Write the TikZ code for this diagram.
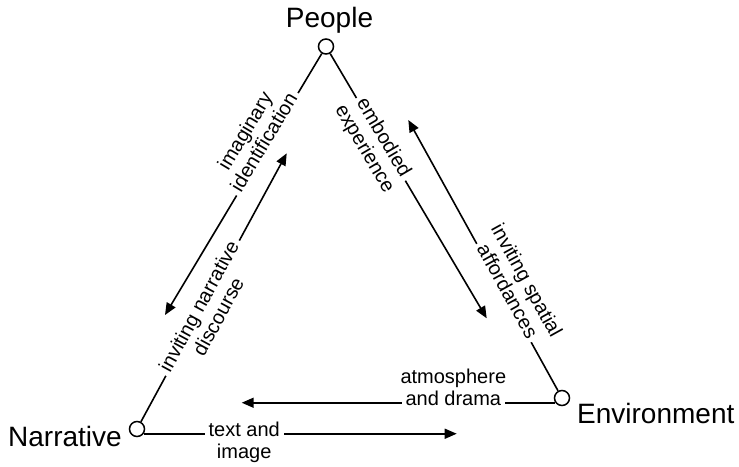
\documentclass[tikz,border=0pt]{standalone}
\usepackage{fontspec}
\setmainfont{Liberation Sans}
\usetikzlibrary{arrows.meta}
\newcommand{\uplbl}[2]{\begin{tabular}[b]{@{}c@{}}\makebox[0pt]{#1}\\#2\end{tabular}}
\newcommand{\downlbl}[2]{\begin{tabular}[t]{@{}c@{}}#1\\\makebox[0pt]{#2}\end{tabular}}

\begin{document}
\begin{tikzpicture}[x=1pt, y=-1pt,
  vertex/.style={circle, draw, fill=white, line width=1.5pt, minimum size=15pt, inner sep=0pt},
  corner/.style={font=\fontsize{28}{32}\selectfont, anchor=base},
  link/.style={line width=1.6pt, -{Triangle[length=12pt, width=10pt]}},
  lbl/.style={font=\fontsize{20}{22}\selectfont, fill=white, inner xsep=4pt, inner ysep=1pt, sloped, anchor=mid}]
\useasboundingbox (0,0) rectangle (739,466);

\node[vertex] (people) at (326, 46.5) {};
\node[vertex] (narrative) at (137, 429) {};
\node[vertex] (environment) at (562, 398) {};
\node[corner] (peopleLbl) at (329.5, 27) {People};
\node[corner] (narrativeLbl) at (65, 446.7) {Narrative};
\node[corner] (environmentLbl) at (655.8, 423.5) {Environment};

\coordinate (pn) at (165, 315);
\coordinate (np) at (286.7, 153.3);
\coordinate (pe) at (486.7, 318.3);
\coordinate (ep) at (408.3, 120);
\coordinate (en) at (241.7, 403.3);
\coordinate (ne) at (456.7, 434);

\draw[link] (people) -- node[lbl, pos=.347]{\uplbl{imaginary}{identification}} (pn);
\draw[link] (narrative) -- node[lbl, pos=.423]{\downlbl{inviting narrative}{discourse}} (np);
\draw[link] (people) -- node[lbl, pos=.324]{\downlbl{embodied}{experience}} (pe);
\draw[link] (environment) -- node[lbl, pos=.361]{\uplbl{inviting spatial}{affordances}} (ep);
\draw[link] (environment.215) -- node[lbl, pos=.325]{\uplbl{atmosphere}{and drama}} (environment.215 -| en);
\draw[link] (narrative.-35) -- node[lbl, pos=.321]{\downlbl{text and}{image}} (narrative.-35 -| ne);
\end{tikzpicture}
\end{document}
